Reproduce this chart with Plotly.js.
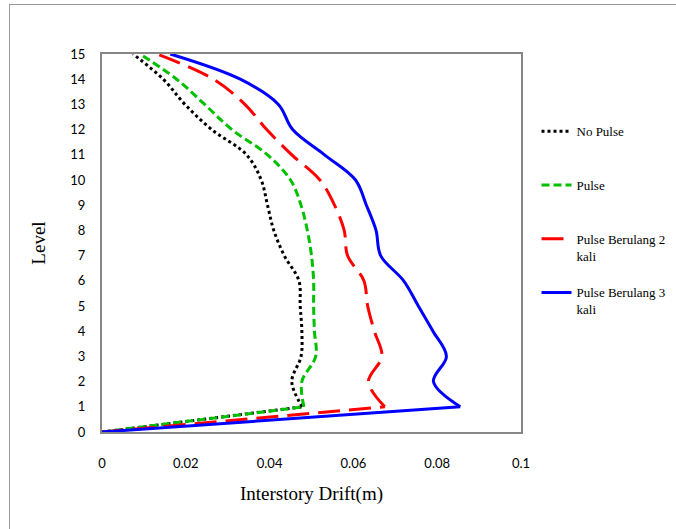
<!DOCTYPE html>
<html>
<head>
<meta charset="utf-8">
<script src="https://cdn.plot.ly/plotly-3.0.1.min.js"></script>
<style>
  html, body { margin: 0; padding: 0; background: #fff; }
  #frame { position: absolute; left: 9px; top: 4px; width: 700px; height: 600px; border: 1px solid #9a9a9a; box-sizing: border-box; }
  #chart { position: absolute; left: 0; top: 0; width: 676px; height: 529px; }
</style>
</head>
<body>
<div id="frame"></div>
<div id="chart"></div>
<script>
const levels = [0, 1, 2, 3, 4, 5, 6, 7, 8, 9, 10, 11, 12, 13, 14, 15];

const noPulse   = [0, 0.0478, 0.0453, 0.0475, 0.0477, 0.0473, 0.0470, 0.0435, 0.0410, 0.0395, 0.0380, 0.0345, 0.0262, 0.0198, 0.0146, 0.0074];
const pulse     = [0, 0.0482, 0.0477, 0.0510, 0.0507, 0.0505, 0.0505, 0.0500, 0.0490, 0.0475, 0.0450, 0.0395, 0.0310, 0.0245, 0.0178, 0.0091];
const berulang2 = [0, 0.0675, 0.0636, 0.0668, 0.0650, 0.0634, 0.0625, 0.0586, 0.0578, 0.0555, 0.0520, 0.0453, 0.0393, 0.0341, 0.0266, 0.0131];
const berulang3 = [0, 0.0855, 0.0791, 0.0822, 0.0790, 0.0755, 0.0720, 0.0665, 0.0654, 0.0631, 0.0605, 0.0531, 0.0455, 0.0421, 0.0330, 0.0163];

const seriesNames = ["No Pulse", "Pulse", "Pulse Berulang 2<br>kali", "Pulse Berulang 3<br>kali"];
const xTicks = [0, 0.02, 0.04, 0.06, 0.08, 0.1];
const xTickText = ["0", "0.02", "0.04", "0.06", "0.08", "0.1"];

const SERIF = "Liberation Serif";
const SANS = "Lato";
const NB = "\u00a0";

// pad every legend label to three lines so entries are evenly spaced
function legendLabel(name) {
  const n = name.split("<br>").length;
  let s = name;
  for (let i = n; i < 3; i++) s += "<br>" + NB;
  return s;
}

function traces(x, name, color, dash, group) {
  const line = { color: color, width: 3, dash: dash };
  return [
    { // upper storeys: smoothed
      x: x.slice(1), y: levels.slice(1), name: legendLabel(name), type: "scatter", mode: "lines",
      legendgroup: group,
      line: Object.assign({ shape: "spline", smoothing: 1 }, line),
      hoverinfo: "skip"
    },
    { // ground to first level: straight
      x: x.slice(0, 2), y: levels.slice(0, 2), name: name, type: "scatter", mode: "lines",
      legendgroup: group, showlegend: false,
      line: Object.assign({ shape: "linear" }, line),
      hoverinfo: "skip"
    }
  ];
}

const data = [].concat(
  traces(noPulse, seriesNames[0], "#000000", "3px,3px", "a"),
  traces(pulse, seriesNames[1], "#00c000", "8px,4px", "b"),
  traces(berulang2, seriesNames[2], "#ff0000", "22px,9px", "c"),
  traces(berulang3, seriesNames[3], "#0000ff", "solid", "d")
);

const layout = {
  width: 676, height: 529,
  margin: { l: 102, r: 155, t: 54, b: 97, pad: 0, autoexpand: false },
  paper_bgcolor: "rgba(0,0,0,0)",
  plot_bgcolor: "#ffffff",
  showlegend: true,
  legend: {
    x: 1.037, y: 0.835, xanchor: "left", yanchor: "top",
    font: { family: SERIF, size: 13, color: "#000" },
    tracegroupgap: 0, valign: "top", bgcolor: "rgba(0,0,0,0)"
  },
  xaxis: {
    range: [0, 0.1], tickvals: xTicks, ticktext: xTickText,
    showgrid: false, zeroline: false, ticks: "",
    showline: true, mirror: true, linecolor: "#868686", linewidth: 2,
    ticklabelstandoff: 18,
    tickfont: { family: SANS, size: 13, color: "#000" },
    title: { text: "Interstory Drift(m)", standoff: 17,
             font: { family: SERIF, size: 19, color: "#000" } }
  },
  yaxis: {
    range: [0, 15], dtick: 1, tick0: 0,
    showgrid: false, zeroline: false, ticks: "",
    showline: true, mirror: true, linecolor: "#868686", linewidth: 2,
    ticklabelstandoff: 12,
    tickfont: { family: SANS, size: 13, color: "#000" },
    title: { text: "Level", standoff: 20,
             font: { family: SERIF, size: 19, color: "#000" } }
  }
};

Plotly.newPlot("chart", data, layout, { displayModeBar: false, staticPlot: true });
</script>
</body>
</html>
